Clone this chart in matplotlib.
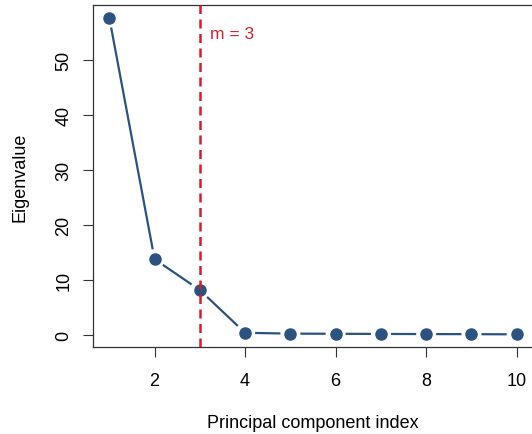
import numpy as np
import matplotlib
matplotlib.use("Agg")
import matplotlib.pyplot as plt

plt.rcParams['font.family'] = ['Liberation Sans', 'DejaVu Sans']

# eigenvalues
components = [1, 2, 3, 4, 5, 6, 7, 8, 9, 10]
eigenvalues = [57.6, 13.8, 8.2, 0.45, 0.3, 0.27, 0.24, 0.22, 0.2, 0.17]
cutoff = 3
cutoff_label = "m = 3"

BLUE = "#2c5380"
RED = "#d0202e"
GAP = 10  # pixels between point centre and line end (R type="b")

fig = plt.figure(figsize=(5.32, 4.35), dpi=100)
ax = fig.add_axes([93 / 532, 1 - 348 / 435, 440 / 532, 342 / 435])

# R style 4% padding on both axes
xr = max(components) - min(components)
yr = max(eigenvalues) - min(eigenvalues)
ax.set_xlim(min(components) - 0.04 * xr, max(components) + 0.04 * xr)
ax.set_ylim(min(eigenvalues) - 0.04 * yr, max(eigenvalues) + 0.04 * yr)

ax.plot(components, eigenvalues, "o", color=BLUE, markersize=8, zorder=3)

# segments with gaps around points, computed in display space
fig.canvas.draw()
pts = ax.transData.transform(np.column_stack([components, eigenvalues]))
inv = ax.transData.inverted()
for a, b in zip(pts[:-1], pts[1:]):
    d = b - a
    n = np.hypot(*d)
    if n <= 2 * GAP:
        continue
    u = d / n
    seg = inv.transform(np.array([a + u * GAP, b - u * GAP]))
    ax.plot(seg[:, 0], seg[:, 1], color=BLUE, lw=1.6, solid_capstyle="butt", zorder=2)

ax.axvline(cutoff, color=RED, lw=1.8, dashes=(3.6, 2.2), zorder=4)
ax.text(cutoff + 0.22, 54.8, cutoff_label, color=RED, fontsize=12.5, va="center", ha="left")

ax.set_xticks([2, 4, 6, 8, 10])
ax.set_yticks([0, 10, 20, 30, 40, 50])
ax.tick_params(axis="both", length=7, width=0.8, labelsize=13, color="#333333")
ax.tick_params(axis="x", pad=11)
ax.tick_params(axis="y", pad=8)
for lab in ax.get_yticklabels():
    lab.set_rotation(90)
    lab.set_va("center")

for s in ax.spines.values():
    s.set_color("#333333")
    s.set_linewidth(0.9)

ax.set_xlabel("Principal component index", fontsize=13, labelpad=18)
ax.set_ylabel("Eigenvalue", fontsize=13, labelpad=19)

fig.savefig("out.png", dpi=100)
